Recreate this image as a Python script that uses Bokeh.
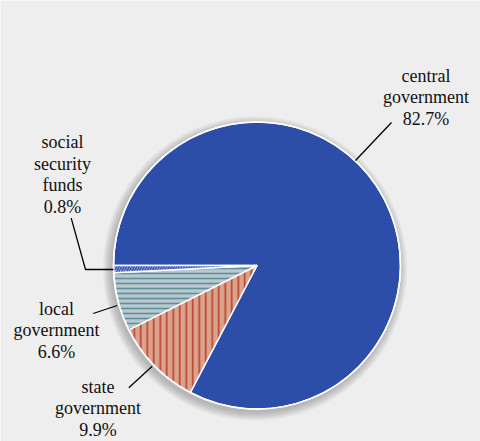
import math
from bokeh.plotting import figure
from bokeh.models import ColumnDataSource, Range1d
from bokeh.core.properties import value
from bokeh.embed import file_html
from bokeh.resources import INLINE

# ---- data ----
categories = ["central government", "state government", "local government", "social security funds"]
shares = [82.7, 9.9, 6.6, 0.8]
label_lines = [["central", "government"], ["state", "government"], ["local", "government"], ["social", "security", "funds"]]
fill_colors = ["#2c4ea8", "#dba28c", "#b9c9ce", "#a4b0de"]
hatch_patterns = [" ", "vertical_line", "horizontal_line", "right_diagonal_line"]
hatch_colors = ["#2c4ea8", "#b8402e", "#5f8e9c", "#3a52b0"]
hatch_scales = [12, 6.5, 5, 5]

W, H = 480, 441
BG = "#eeeeee"
LINE_H = 21.5

def px(X, Y):
    # picture coordinates -> data coordinates
    return X, H - Y

cx, cy = px(256.5, 265)
R = 143.5

total = sum(shares)
starts, ends = [], []
a = math.pi
for s in shares:
    starts.append(a)
    a -= s / total * 2 * math.pi
    ends.append(a)

src = ColumnDataSource(dict(
    start=starts, end=ends, fill=fill_colors, hp=hatch_patterns, hc=hatch_colors, hs=hatch_scales,
    cat=categories,
))

p = figure(width=W, height=H, output_backend="svg", toolbar_location=None,
           x_range=Range1d(0, W), y_range=Range1d(0, H),
           x_axis_type=None, y_axis_type=None, min_border=0,
           background_fill_color=BG, border_fill_color=BG, outline_line_color=None)
p.grid.visible = False

# soft shadow
for i in range(10, 0, -1):
    p.circle(x=cx - 2, y=cy - 3, radius=R + i * 0.9, fill_color="black", fill_alpha=0.025, line_color=None)

p.wedge(x=cx, y=cy, radius=R, start_angle="start", end_angle="end", direction="clock", source=src,
        fill_color="fill", hatch_pattern="hp", hatch_color="hc", hatch_scale="hs", hatch_weight=1.6,
        line_color="white", line_width=1.5)
p.circle(x=cx, y=cy, radius=R, fill_color=None, line_color="white", line_width=1.5)

# labels: first-line positions (picture coords)
label_top = [(425.5, 75), (97.5, 386), (56, 308), (62, 141.5)]
tx, ty, tt = [], [], []
for (X, Y), lines, s in zip(label_top, label_lines, shares):
    for k, line in enumerate(lines + [f"{s}%"]):
        x, y = px(X, Y + k * LINE_H)
        tx.append(x)
        ty.append(y)
        tt.append(line)
p.text(x=tx, y=ty, text=tt,
       text_font=value("Liberation Serif"), text_font_size="18px",
       text_color="#111111", text_align="center", text_baseline="middle")

# leader lines
leaders = [
    [(391, 122), (355, 160)],
    [(128.3, 387.3), (151.7, 365.7)],
    [(92.7, 313), (116.7, 305)],
    [(70.7, 217.7), (85, 269), (113, 269)],
]
xs = [[px(*pt)[0] for pt in l] for l in leaders]
ys = [[px(*pt)[1] for pt in l] for l in leaders]
p.multi_line(xs=xs, ys=ys, line_color="black", line_width=1.3)

open("out.html", "w").write(file_html(p, INLINE))
